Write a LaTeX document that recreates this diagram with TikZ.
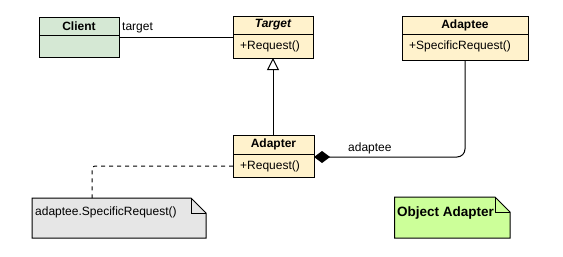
\documentclass[tikz,border=0pt]{standalone}
\usepackage{fontspec}
\setmainfont{Liberation Sans}
\usetikzlibrary{arrows.meta,positioning}
\definecolor{cgreen}{HTML}{D5E8D4}
\definecolor{cyellow}{HTML}{FFF2CC}
\definecolor{cgray}{HTML}{E6E6E6}
\definecolor{clime}{HTML}{CCFF99}
\begin{document}
\begin{tikzpicture}[x=1pt,y=-1pt,
  box/.style={draw=black,line width=1pt},
  lbl/.style={inner sep=0pt,font=\fontsize{12}{14}\selectfont},
  hdr/.style={inner sep=0pt,font=\fontsize{12}{14}\selectfont\bfseries},
  conn/.style={draw=black,line width=1pt},
]
\useasboundingbox (0,0) rectangle (563,257);
% Client
\fill[cgreen] (39,17) rectangle (119,57);
\draw[box] (39,17) rectangle (119,57);
\draw[box] (39,35) -- (119,35);
\node[hdr] (client) at (79,26) {Client};
\coordinate (clientR) at (119,37);
% Target
\fill[cyellow] (233,16) rectangle (313,58);
\draw[box] (233,16) rectangle (313,58);
\draw[box] (233,34) -- (313,34);
\node[hdr,font=\fontsize{12}{14}\selectfont\bfseries\itshape] (target) at (273,25) {Target};
\node[lbl,anchor=west] (treq) at (240,46) {+Request()};
\coordinate (targetL) at (233,37);
\coordinate (targetB) at (273,58);
% Adaptee
\fill[cyellow] (402,16) rectangle (528,60);
\draw[box] (402,16) rectangle (528,60);
\draw[box] (402,34) -- (528,34);
\node[hdr] (adaptee) at (465,25) {Adaptee};
\node[lbl,anchor=west] (sreq) at (409,46) {+SpecificRequest()};
\coordinate (adapteeB) at (465,60);
% Adapter
\fill[cyellow] (233,135) rectangle (314,177);
\draw[box] (233,135) rectangle (314,177);
\draw[box] (233,154) -- (314,154);
\node[hdr] (adapter) at (273.5,144) {Adapter};
\node[lbl,anchor=west] (areq) at (240,166) {+Request()};
\coordinate (adapterT) at (273,135);
\coordinate (adapterR) at (314,157);
\coordinate (adapterL) at (233,166);
% Note 1
\fill[cgray] (32,198) -- (191,198) -- (206,213) -- (206,238) -- (32,238) -- cycle;
\draw[box] (32,198) -- (191,198) -- (206,213) -- (206,238) -- (32,238) -- cycle;
\draw[box] (191,198) -- (191,213) -- (206,213);
\node[lbl,anchor=west] (note1) at (35,212) {adaptee.SpecificRequest()};
\coordinate (note1T) at (92,198);
% Note 2
\fill[clime] (394.5,197) -- (495,197) -- (510,212) -- (510,238) -- (394.5,238) -- cycle;
\draw[box] (394.5,197) -- (495,197) -- (510,212) -- (510,238) -- (394.5,238) -- cycle;
\draw[box] (495,197) -- (495,212) -- (510,212);
\node[hdr,font=\fontsize{13.5}{15}\selectfont\bfseries,anchor=west] (note2) at (397,213) {Object Adapter};
% connectors
\draw[conn] (clientR) -- (targetL);
\node[lbl,anchor=west] (tlabel) at (122,28) {target};
\draw[conn,-{Triangle[open,length=12pt,width=12pt,fill=white]}] (adapterT) -- (targetB);
\draw[conn,{Diamond[length=16pt,width=12pt,fill=black]}-,rounded corners=8pt] (adapterR) -- (465,157) -- (adapteeB);
\node[lbl,anchor=west] (alabel) at (348,148) {adaptee};
\draw[conn,dashed,dash pattern=on 4pt off 4pt,rounded corners=3pt] (adapterL) -- (92,166) -- (note1T);
\end{tikzpicture}
\end{document}
